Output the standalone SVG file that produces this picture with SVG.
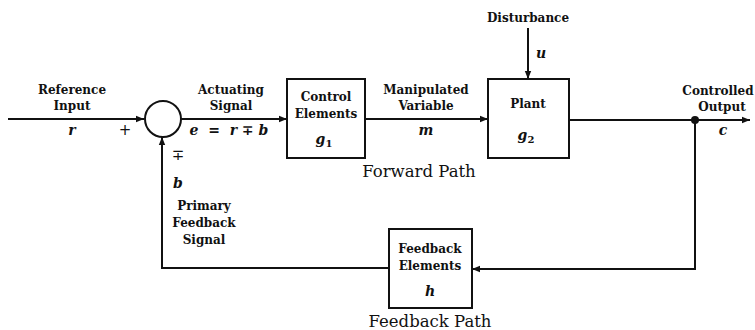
<svg xmlns="http://www.w3.org/2000/svg" width="755" height="330" viewBox="0 0 755 330">
  <style>
    .lbl { font-family: "DejaVu Serif", "Liberation Serif", serif; font-size: 12px; font-weight: bold; fill: #111; text-anchor: middle; }
    .var { font-family: "DejaVu Serif", "Liberation Serif", serif; font-size: 14px; font-style: italic; font-weight: bold; fill: #111; text-anchor: middle; }
    .sub { font-size: 10px; font-style: normal; }
    .path { font-family: "DejaVu Serif", "Liberation Serif", serif; font-size: 16.5px; fill: #111; text-anchor: middle; }
    .sym { font-family: "DejaVu Sans", sans-serif; font-size: 15px; fill: #111; text-anchor: middle; }
    .box { fill: #fff; stroke: #111; stroke-width: 2; }
    .wire { fill: none; stroke: #111; stroke-width: 2; }
  </style>
  <defs>
    <marker id="arrow" viewBox="0 0 10 10" refX="10" refY="5" markerWidth="10" markerHeight="8" markerUnits="userSpaceOnUse" orient="auto">
      <path d="M0,1 L10,5 L0,9 Z" fill="#111"/>
    </marker>
  </defs>
  <rect width="755" height="330" fill="#fff"/>

  <g id="connectors">
    <line class="wire" x1="8" y1="119" x2="144" y2="119" marker-end="url(#arrow)"/>
    <line class="wire" x1="181" y1="119" x2="287" y2="119" marker-end="url(#arrow)"/>
    <line class="wire" x1="365" y1="119" x2="488" y2="119" marker-end="url(#arrow)"/>
    <line class="wire" x1="528" y1="28" x2="528" y2="79" marker-end="url(#arrow)"/>
    <line class="wire" x1="569" y1="120" x2="750" y2="120" marker-end="url(#arrow)"/>
    <polyline class="wire" points="695,120 695,269 472,269" marker-end="url(#arrow)"/>
    <polyline class="wire" points="389,268 162,268 162,137" marker-end="url(#arrow)"/>
    <circle cx="695" cy="120" r="4" fill="#111"/>
  </g>

  <g id="summing-junction">
    <circle cx="163" cy="119" r="18" fill="#fff" stroke="#111" stroke-width="2"/>
    <text class="sym" x="125" y="135">+</text>
    <text class="sym" x="178" y="160">∓</text>
  </g>

  <g id="reference-input">
    <text class="lbl" x="72" y="94">Reference</text>
    <text class="lbl" x="72" y="110">Input</text>
    <text class="var" x="72" y="135">r</text>
  </g>

  <g id="actuating-signal">
    <text class="lbl" x="231" y="94">Actuating</text>
    <text class="lbl" x="231" y="110">Signal</text>
    <text class="var" x="229" y="135" xml:space="preserve">e  =  r ∓ b</text>
  </g>

  <g id="control-elements">
    <rect class="box" x="287" y="79" width="78" height="79"/>
    <text class="lbl" x="326" y="101">Control</text>
    <text class="lbl" x="326" y="118">Elements</text>
    <text class="var" x="324" y="144">g<tspan class="sub" dy="3">1</tspan></text>
  </g>

  <g id="manipulated-variable">
    <text class="lbl" x="426" y="94">Manipulated</text>
    <text class="lbl" x="426" y="110">Variable</text>
    <text class="var" x="426" y="135">m</text>
    <text class="path" x="419" y="177">Forward Path</text>
  </g>

  <g id="disturbance">
    <text class="lbl" x="528" y="22">Disturbance</text>
    <text class="var" x="541" y="58">u</text>
  </g>

  <g id="plant">
    <rect class="box" x="488" y="79" width="81" height="79"/>
    <text class="lbl" x="528" y="108">Plant</text>
    <text class="var" x="526" y="140">g<tspan class="sub" dy="3">2</tspan></text>
  </g>

  <g id="controlled-output">
    <text class="lbl" x="718" y="95">Controlled</text>
    <text class="lbl" x="722" y="111">Output</text>
    <text class="var" x="723" y="135">c</text>
  </g>

  <g id="feedback-signal">
    <text class="var" x="178" y="188">b</text>
    <text class="lbl" x="204" y="210">Primary</text>
    <text class="lbl" x="204" y="227">Feedback</text>
    <text class="lbl" x="204" y="244">Signal</text>
  </g>

  <g id="feedback-elements">
    <rect class="box" x="389" y="229" width="83" height="79"/>
    <text class="lbl" x="430" y="253">Feedback</text>
    <text class="lbl" x="430" y="270">Elements</text>
    <text class="var" x="430" y="296">h</text>
    <text class="path" x="430" y="327">Feedback Path</text>
  </g>
</svg>
